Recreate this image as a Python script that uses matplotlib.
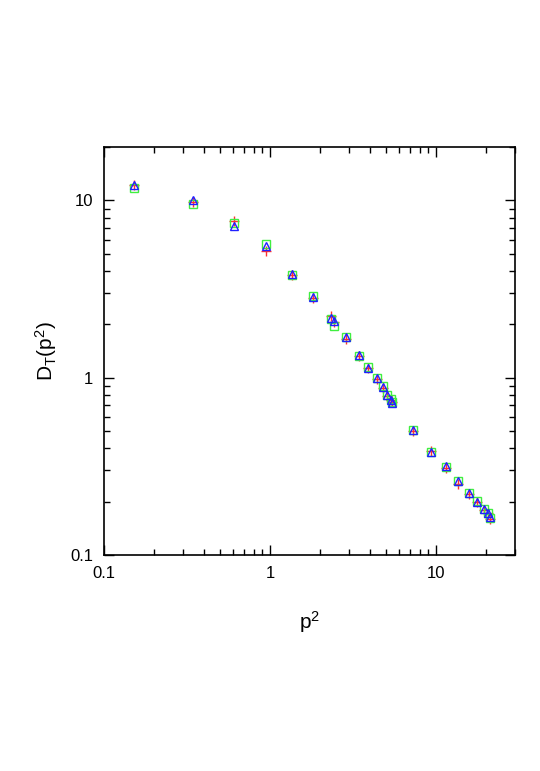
import matplotlib
matplotlib.use("Agg")
import matplotlib.pyplot as plt
import numpy as np

plt.rcParams['font.family'] = ['Liberation Sans', 'DejaVu Sans']
plt.rcParams['mathtext.default'] = 'regular'

# momenta p^2 (shared by all series)
p2 = [0.152, 0.342, 0.61, 0.95, 1.365, 1.81, 2.32, 2.45, 2.87, 3.42, 3.89,
      4.39, 4.79, 5.1, 5.34, 5.46, 7.26, 9.33, 11.5, 13.6, 15.8, 17.7,
      19.4, 20.5, 21.1]

# three lattice data sets
d_red = [12.2, 9.8, 7.7, 5.2, 3.8, 2.82, 2.22, 2.05, 1.66, 1.33, 1.14,
         0.98, 0.88, 0.79, 0.75, 0.73, 0.50, 0.385, 0.31, 0.25, 0.222,
         0.198, 0.18, 0.172, 0.16]
d_green = [11.8, 9.5, 7.5, 5.65, 3.8, 2.88, 2.15, 1.95, 1.70, 1.33, 1.15,
           0.99, 0.90, 0.80, 0.76, 0.73, 0.51, 0.38, 0.315, 0.262, 0.225,
           0.202, 0.182, 0.173, 0.162]
d_blue = [12.2, 10.1, 7.2, 5.5, 3.82, 2.86, 2.18, 2.08, 1.69, 1.35, 1.13,
          0.99, 0.89, 0.80, 0.75, 0.72, 0.51, 0.38, 0.318, 0.262, 0.224,
          0.198, 0.181, 0.172, 0.163]

fig = plt.figure(figsize=(5.4, 7.71), dpi=100)
ax = fig.add_axes([0.1926, 0.2802, 0.7611, 0.5291])

ax.plot(p2, d_red, linestyle='none', marker='+', ms=6.5, mew=1.0,
        color='#ff3030')
ax.plot(p2, d_green, linestyle='none', marker='s', ms=6, mew=1.0,
        mfc='none', mec='#40ee40')
ax.plot(p2, d_blue, linestyle='none', marker='^', ms=6, mew=1.0,
        mfc='none', mec='#2020ff')

ax.set_xscale('log')
ax.set_yscale('log')
ax.set_xlim(0.1, 30)
ax.set_ylim(0.1, 20)

ax.set_xticks([0.1, 1, 10])
ax.set_xticklabels(['0.1', '1', '10'])
ax.set_yticks([0.1, 1, 10])
ax.set_yticklabels(['0.1', '1', '10'])

ax.tick_params(which='both', direction='in', top=True, right=True,
               labelsize=12, width=1.0)
ax.tick_params(which='major', length=7, pad=8)
ax.tick_params(which='minor', length=4)
for s in ax.spines.values():
    s.set_linewidth(1.2)

ax.set_xlabel('p$^2$', fontsize=15, labelpad=20)
ax.set_ylabel('D$_T$(p$^2$)', fontsize=15, labelpad=8)

fig.savefig('out.png', dpi=100)
